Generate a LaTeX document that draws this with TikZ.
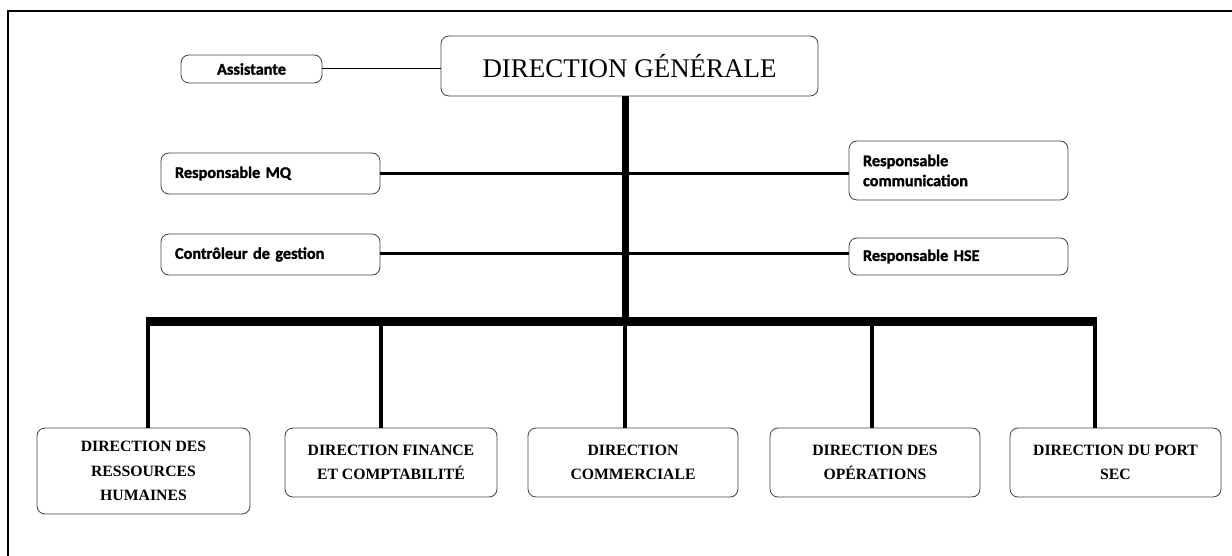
\documentclass[tikz,border=0pt]{standalone}
\usepackage{fontspec}
\setmainfont{Liberation Serif}
\newfontfamily\labfont[BoldFeatures={FakeBold=1.5}]{Carlito}
\begin{document}
\begin{tikzpicture}[x=0.75pt,y=-0.75pt,
  box/.style={draw=black!75,line width=0.6pt,rounded corners=6pt,inner sep=0pt},
  smallbox/.style={box,font=\labfont\bfseries\fontsize{12.2}{15}\selectfont,align=left,minimum width=164.25pt,text width=143.25pt},
  dirbox/.style={box,font=\bfseries\fontsize{11.8}{18.4}\selectfont,align=center,minimum height=51.75pt},
  thinline/.style={line width=0.75pt},
  sideline/.style={line width=2.25pt},
  dropline/.style={line width=3pt},
  busline/.style={line width=6.75pt}]
\useasboundingbox (0,0) rectangle (1232,556);
\draw[line width=1.4pt] (8,556) -- (8,11) -- (1232,11);

\node[box,minimum width=105.75pt,minimum height=21pt,font=\labfont\bfseries\fontsize{12.2}{14}\selectfont] (as) at (251.5,69) {Assistante};
\node[box,minimum width=282.75pt,minimum height=45pt,font=\fontsize{20.2}{24}\selectfont] (dg) at (629.5,66) {DIRECTION GÉNÉRALE};

\node[smallbox,minimum height=30.75pt] (mq) at (270.5,173.5) {Responsable MQ};
\node[smallbox,minimum height=44.25pt] (com) at (958.5,170.5) {Responsable\\communication};
\node[smallbox,minimum height=30.75pt] (cg) at (270.5,254.5) {Contrôleur de gestion};
\node[smallbox,minimum height=27.75pt] (hse) at (958.5,256.5) {Responsable HSE};

\node[dirbox,minimum width=159.75pt,minimum height=64.5pt] (drh) at (143.5,471) {DIRECTION DES\\RESSOURCES\\HUMAINES};
\node[dirbox,minimum width=159pt] (dfc) at (391,462.5) {DIRECTION FINANCE\\ET COMPTABILITÉ};
\node[dirbox,minimum width=157.5pt] (dc) at (633,462.5) {DIRECTION\\COMMERCIALE};
\node[dirbox,minimum width=157.5pt] (dop) at (875,462.5) {DIRECTION DES\\OPÉRATIONS};
\node[dirbox,minimum width=158.25pt] (dps) at (1115.5,462.5) {DIRECTION DU PORT\\SEC};

\coordinate (top) at (625,96);
\coordinate (b1) at (148,321);
\coordinate (b2) at (381,321);
\coordinate (b3) at (625,321);
\coordinate (b4) at (872,321);
\coordinate (b5) at (1095,321);

\draw[thinline] (as.east) -- (as.east -| dg.west);
\draw[busline,line width=5.25pt] (top |- dg.south) -- (b3);
\draw[sideline] (mq.east) -- (mq.east -| com.west);
\draw[sideline] ([yshift=1pt]cg.east) -- ([yshift=1pt]cg.east -| hse.west);
\draw[busline] ([xshift=-1.5pt]b1) -- ([xshift=1.5pt]b5);
\draw[dropline] (b1) -- (b1 |- drh.north);
\draw[dropline] (b2) -- (b2 |- dfc.north);
\draw[dropline] (b3) -- (b3 |- dc.north);
\draw[dropline] (b4) -- (b4 |- dop.north);
\draw[dropline] (b5) -- (b5 |- dps.north);
\end{tikzpicture}
\end{document}
